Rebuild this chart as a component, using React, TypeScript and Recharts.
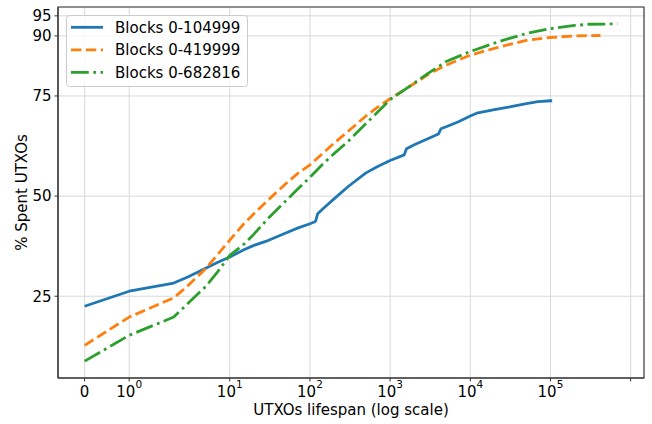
import { LineChart, Line, XAxis, YAxis, CartesianGrid, Legend, ReferenceArea } from "recharts"

const FONT = "DejaVu Sans"

// UTXO lifespan (blocks) vs % of spent UTXOs
const lifespan104999 = [0, 1, 2, 3, 5, 7, 10, 15, 20, 30, 50, 70, 100, 115, 118, 125, 150, 200, 300, 500, 700, 1000, 1500, 1600, 2000, 3000, 4000, 4300, 5000, 7000, 10000, 12000, 20000, 30000, 50000, 70000, 100000, 104999]
const spent104999 = [22.5, 26.25, 28.3, 29.8, 32.0, 33.4, 34.8, 36.6, 37.7, 38.9, 40.8, 42.0, 43.1, 43.6, 43.8, 45.6, 47.1, 49.3, 52.4, 55.8, 57.4, 58.9, 60.3, 61.8, 62.8, 64.4, 65.5, 66.8, 67.3, 68.5, 70.0, 70.7, 71.6, 72.2, 73.1, 73.6, 73.8, 73.8]

const lifespan419999 = [0, 1, 2, 3, 5, 7, 10, 15, 20, 30, 50, 70, 100, 150, 200, 300, 500, 700, 1000, 2000, 3000, 5000, 10000, 20000, 30000, 50000, 100000, 200000, 419999]
const spent419999 = [12.75, 19.8, 24.6, 27.6, 31.9, 35.3, 39.0, 43.1, 45.6, 49.0, 53.1, 55.6, 57.8, 61.0, 63.2, 66.2, 70.0, 72.2, 74.3, 78.1, 80.4, 82.7, 85.2, 86.9, 87.8, 88.9, 89.6, 90.0, 90.1]

const lifespan682816 = [0, 1, 2, 3, 5, 7, 10, 15, 20, 30, 50, 70, 100, 150, 200, 300, 500, 700, 1000, 2000, 3000, 5000, 10000, 20000, 30000, 50000, 100000, 200000, 300000, 682816]
const spent682816 = [8.8, 15.25, 19.8, 23.2, 27.4, 31.0, 35.2, 38.0, 40.5, 44.4, 48.8, 51.7, 54.7, 58.3, 60.6, 63.7, 68.1, 71.0, 74.1, 78.2, 80.7, 83.6, 86.1, 88.2, 89.3, 90.6, 91.8, 92.6, 92.9, 93.0]

const xTickValues = [0, 1, 10, 100, 1000, 10000, 100000, 1000000]
const xTickLabels = ["0", "10^0", "10^1", "10^2", "10^3", "10^4", "10^5", ""]
const yTicks = [25, 50, 75, 90, 95]

// matplotlib symlog with linthresh=2, linscale=1 (unit = one decade)
const LINTHRESH = 2
const LINSCALE_ADJ = 1 / (1 - 1 / 10)
function symlog(v: number) {
  if (v <= LINTHRESH) return (v / LINTHRESH) * LINSCALE_ADJ
  return LINSCALE_ADJ + Math.log10(v / LINTHRESH)
}

const series = [
  { name: "Blocks 0-104999", color: "#1f77b4", dash: undefined, x: lifespan104999, y: spent104999 },
  { name: "Blocks 0-419999", color: "#ff7f0e", dash: "10.4 4.5", x: lifespan419999, y: spent419999 },
  { name: "Blocks 0-682816", color: "#2ca02c", dash: "17.8 4.5 2.8 4.5", x: lifespan682816, y: spent682816 },
]

const rows = series.map((s) => s.x.map((x, i) => ({ t: symlog(x), v: s.y[i] })))

// 5% margins like matplotlib autoscale
const allT = rows.flat().map((r) => r.t)
const allV = rows.flat().map((r) => r.v)
const tMin = Math.min(...allT), tMax = Math.max(...allT)
const vMin = Math.min(...allV), vMax = Math.max(...allV)
const xDomain = [tMin - 0.05 * (tMax - tMin), tMax + 0.05 * (tMax - tMin)]
const yDomain = [vMin - 0.05 * (vMax - vMin), vMax + 0.05 * (vMax - vMin)]

const SPINE = "#333333"

function XTick(props: any) {
  const { x, y, index } = props
  const label = xTickLabels[index]
  if (!label) return <g />
  const [base, exp] = label.split("^")
  return (
    <text x={x} y={y} dy={13} textAnchor="middle" fontFamily={FONT} fontSize={15} fill="#000">
      {base}
      {exp !== undefined && (
        <tspan dy={-8.4} fontSize={10.5}>
          {exp}
        </tspan>
      )}
    </text>
  )
}

function YTitle(props: any) {
  const vb = props.viewBox || { x: 0, y: 7, width: 58, height: 371 }
  const x = vb.x + 26.5
  const y = vb.y + vb.height / 2
  return (
    <text x={x} y={y} transform={`rotate(-90, ${x}, ${y})`} textAnchor="middle" fontFamily={FONT} fontSize={15} fill="#000">
      % Spent UTXOs
    </text>
  )
}

function LegendBox() {
  return (
    <svg width={183} height={73} style={{ display: "block" }}>
      <rect x={0.5} y={0.5} width={181} height={71} rx={3} fill="#fff" fillOpacity={0.8} stroke="#cccccc" />
      {series.map((s, i) => {
        const cy = 12.3 + i * 22.5
        return (
          <g key={s.name}>
            <line x1={5} x2={37} y1={cy} y2={cy} stroke={s.color} strokeWidth={2.8} strokeDasharray={s.dash} />
            <text x={49} y={cy + 5.5} fontFamily={FONT} fontSize={15} fill="#000">
              {s.name}
            </text>
          </g>
        )
      })}
    </svg>
  )
}

export default function App() {
  return (
    <div style={{ position: "absolute", left: 0, top: 0, fontFamily: FONT }}>
      <LineChart width={652} height={424} margin={{ top: 7, right: 8, left: 0, bottom: 0 }}>
        <CartesianGrid stroke="#d9d9d9" strokeWidth={1} />
        <XAxis
          dataKey="t"
          type="number"
          domain={xDomain}
          allowDataOverflow
          ticks={xTickValues.map(symlog)}
          tick={<XTick />}
          tickSize={3.5}
          tickLine={{ stroke: SPINE }}
          axisLine={{ stroke: SPINE, strokeWidth: 1.1 }}
          height={46}
          interval={0}
          label={{ value: "UTXOs lifespan (log scale)", position: "insideBottom", offset: 9.5, fill: "#000", fontSize: 15, fontFamily: FONT }}
        />
        <YAxis
          type="number"
          domain={yDomain}
          allowDataOverflow
          ticks={yTicks}
          interval={0}
          width={58}
          tickSize={3.5}
          tickMargin={3}
          tick={{ fill: "#000", fontSize: 15, fontFamily: FONT }}
          tickLine={{ stroke: SPINE }}
          axisLine={{ stroke: SPINE, strokeWidth: 1.1 }}
          label={<YTitle />}
        />
        <ReferenceArea x1={xDomain[0]} x2={xDomain[1]} y1={yDomain[0]} y2={yDomain[1]} fill="none" stroke={SPINE} strokeWidth={1.1} />
        {series.map((s, i) => (
          <Line
            key={s.name}
            data={rows[i]}
            dataKey="v"
            name={s.name}
            type="linear"
            stroke={s.color}
            strokeWidth={2.8}
            strokeDasharray={s.dash}
            strokeLinejoin="round"
            dot={false}
            activeDot={false}
            isAnimationActive={false}
          />
        ))}
        <Legend
          layout="horizontal"
          verticalAlign="middle"
          align="center"
          wrapperStyle={{ left: 66, top: 15, width: 183, height: 73 }}
          content={() => <LegendBox />}
        />
      </LineChart>
    </div>
  )
}
